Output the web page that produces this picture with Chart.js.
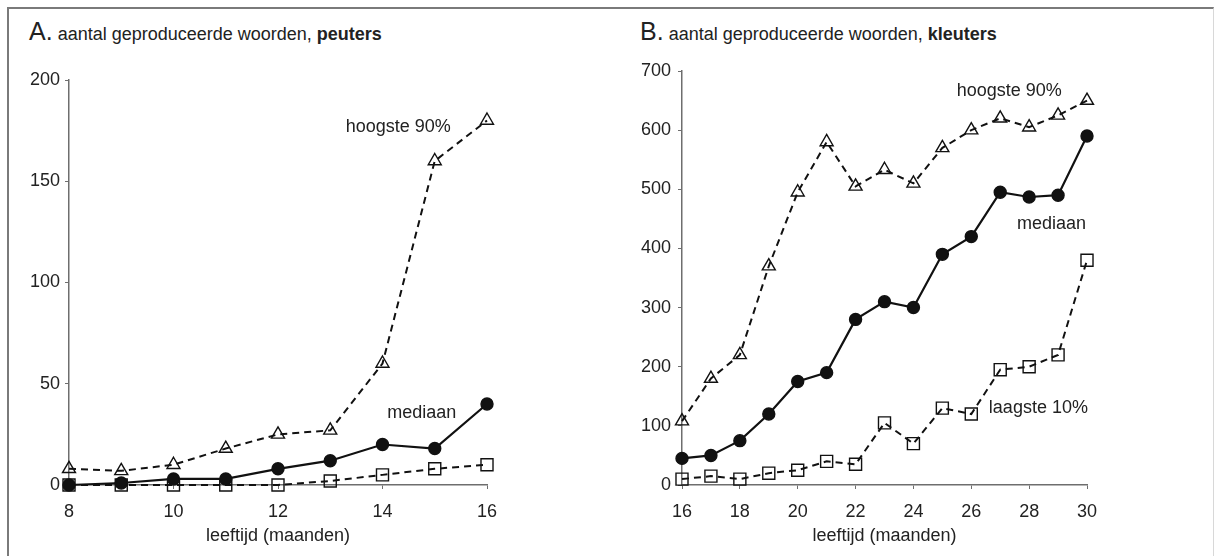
<!DOCTYPE html>
<html>
<head>
<meta charset="utf-8">
<script src="https://cdn.jsdelivr.net/npm/chart.js@4/dist/chart.umd.min.js"></script>
<style>
  html, body { margin: 0; padding: 0; background: #fff; }
  body { width: 1214px; height: 556px; position: relative; overflow: hidden;
         font-family: "Liberation Sans", Arial, sans-serif; color: #222; }
  #frame { position: absolute; left: 7px; top: 7px; width: 1204px; height: 560px;
           border-top: 2px solid #7a7a7a; border-left: 2px solid #7a7a7a; border-right: 1px solid #d8d8d8; }
  .panel { position: absolute; top: 8px; height: 548px; }
  #panelA { left: 8px; width: 597px; }
  #panelB { left: 605px; width: 609px; }
  .title { position: absolute; top: 16px; line-height: 30px; font-size: 18px; white-space: nowrap; }
  .title .big { font-size: 25px; }
  #titleA { left: 29px; }
  #titleB { left: 640px; }
</style>
</head>
<body>
<div id="frame"></div>
<div class="title" id="titleA"><span class="big">A.</span> aantal geproduceerde woorden, <b>peuters</b></div>
<div class="title" id="titleB"><span class="big">B.</span> aantal geproduceerde woorden, <b>kleuters</b></div>
<div class="panel" id="panelA"><canvas id="chartA"></canvas></div>
<div class="panel" id="panelB"><canvas id="chartB"></canvas></div>
<script>
// ===== Data =====
// A: peuters (8-16 maanden)
const monthsA = [8, 9, 10, 11, 12, 13, 14, 15, 16];
const medianA = [0, 1, 3, 3, 8, 12, 20, 18, 40];
const highA = [8, 7, 10, 18, 25, 27, 60, 160, 180];
const lowA = [0, 0, 0, 0, 0, 2, 5, 8, 10];
const yTicksA = [0, 50, 100, 150, 200];
const xTicksA = [8, 10, 12, 14, 16];

// B: kleuters (16-30 maanden)
const monthsB = [16, 17, 18, 19, 20, 21, 22, 23, 24, 25, 26, 27, 28, 29, 30];
const medianB = [45, 50, 75, 120, 175, 190, 280, 310, 300, 390, 420, 495, 487, 490, 590];
const highB = [108, 180, 220, 370, 495, 580, 505, 533, 510, 570, 600, 620, 605, 625, 650];
const lowB = [10, 15, 10, 20, 25, 40, 35, 105, 70, 130, 120, 195, 200, 220, 380];
const yTicksB = [0, 100, 200, 300, 400, 500, 600, 700];
const xTicksB = [16, 18, 20, 22, 24, 26, 28, 30];

// ===== Helpers =====
const FONT = '"Liberation Sans", Arial, sans-serif';
const INK = '#111';
const AXIS = '#6e6e6e';

function toPoints(months, values) {
  return months.map((m, i) => ({ x: m, y: values[i] }));
}

function makeDatasets(months, median, high, low) {
  const common = {
    borderColor: INK,
    pointBorderColor: INK,
    pointBorderWidth: 1.4,
    fill: false,
    tension: 0,
    clip: false,
  };
  const sets = [
    { ...common, label: 'mediaan', data: toPoints(months, median), borderWidth: 2.2,
      pointStyle: 'circle', pointRadius: 6, pointBackgroundColor: INK },
    { ...common, label: 'hoogste 90%', data: toPoints(months, high), borderWidth: 2,
      borderDash: [7, 5], pointStyle: 'triangle', pointRadius: 7.5,
      pointBackgroundColor: 'rgba(255,255,255,0)' },
  ];
  if (low) {
    sets.push({ ...common, label: 'laagste 10%', data: toPoints(months, low), borderWidth: 2,
      borderDash: [7, 5], pointStyle: 'rect', pointRadius: 8.5,
      pointBackgroundColor: 'rgba(255,255,255,0)' });
  }
  return sets;
}

// draws the series names inside the plot at data coordinates
const seriesLabels = {
  id: 'seriesLabels',
  afterDatasetsDraw(chart, args, opts) {
    const { ctx, scales } = chart;
    ctx.save();
    ctx.font = '18px ' + FONT;
    ctx.fillStyle = '#222';
    ctx.textAlign = 'center';
    ctx.textBaseline = 'middle';
    (opts.items || []).forEach((it) => {
      ctx.fillText(it.text, scales.x.getPixelForValue(it.x), scales.y.getPixelForValue(it.y));
    });
    ctx.restore();
  },
};

function makeChart(id, cfg) {
  return new Chart(document.getElementById(id), {
    type: 'line',
    data: { datasets: cfg.datasets },
    plugins: [seriesLabels],
    options: {
      responsive: true,
      maintainAspectRatio: false,
      animation: false,
      layout: { padding: cfg.padding },
      scales: {
        x: {
          type: 'linear',
          min: cfg.xTicks[0],
          max: cfg.xTicks[cfg.xTicks.length - 1],
          afterBuildTicks: (s) => { s.ticks = cfg.xTicks.map((v) => ({ value: v })); },
          afterFit: (s) => { s.height = 62; },
          grid: { drawOnChartArea: false, drawTicks: true, tickLength: 4, color: AXIS },
          border: { color: AXIS, width: 1.5 },
          ticks: { color: '#222', font: { family: FONT, size: 18 }, padding: 12, maxRotation: 0 },
          title: { display: true, text: 'leeftijd (maanden)', color: '#222',
                   font: { family: FONT, size: 18 }, padding: { top: 0, bottom: 0 } },
        },
        y: {
          min: cfg.yTicks[0],
          max: cfg.yTicks[cfg.yTicks.length - 1],
          afterBuildTicks: (s) => { s.ticks = cfg.yTicks.map((v) => ({ value: v })); },
          afterFit: (s) => { s.width = cfg.yWidth; },
          grid: { drawOnChartArea: false, drawTicks: true, tickLength: 4, color: AXIS },
          border: { color: AXIS, width: 1.5 },
          ticks: { color: '#222', font: { family: FONT, size: 18 }, padding: cfg.yPad },
        },
      },
      plugins: {
        legend: { display: false },
        tooltip: { enabled: false },
        seriesLabels: { items: cfg.labels },
      },
    },
  });
}

// ===== Charts =====
makeChart('chartA', {
  datasets: makeDatasets(monthsA, medianA, highA, lowA),
  xTicks: xTicksA,
  yTicks: yTicksA,
  yWidth: 50,
  yPad: 5,
  padding: { left: 11, right: 118, top: 72, bottom: 9 },
  labels: [
    { text: 'hoogste 90%', x: 14.3, y: 176.6 },
    { text: 'mediaan', x: 14.75, y: 35.4 },
  ],
});

makeChart('chartB', {
  datasets: makeDatasets(monthsB, medianB, highB, lowB),
  xTicks: xTicksB,
  yTicks: yTicksB,
  yWidth: 55,
  yPad: 7,
  padding: { left: 22, right: 127, top: 63, bottom: 9 },
  labels: [
    { text: 'hoogste 90%', x: 27.31, y: 665.6 },
    { text: 'mediaan', x: 28.77, y: 441.9 },
    { text: 'laagste 10%', x: 28.32, y: 130.5 },
  ],
});
</script>
</body>
</html>
